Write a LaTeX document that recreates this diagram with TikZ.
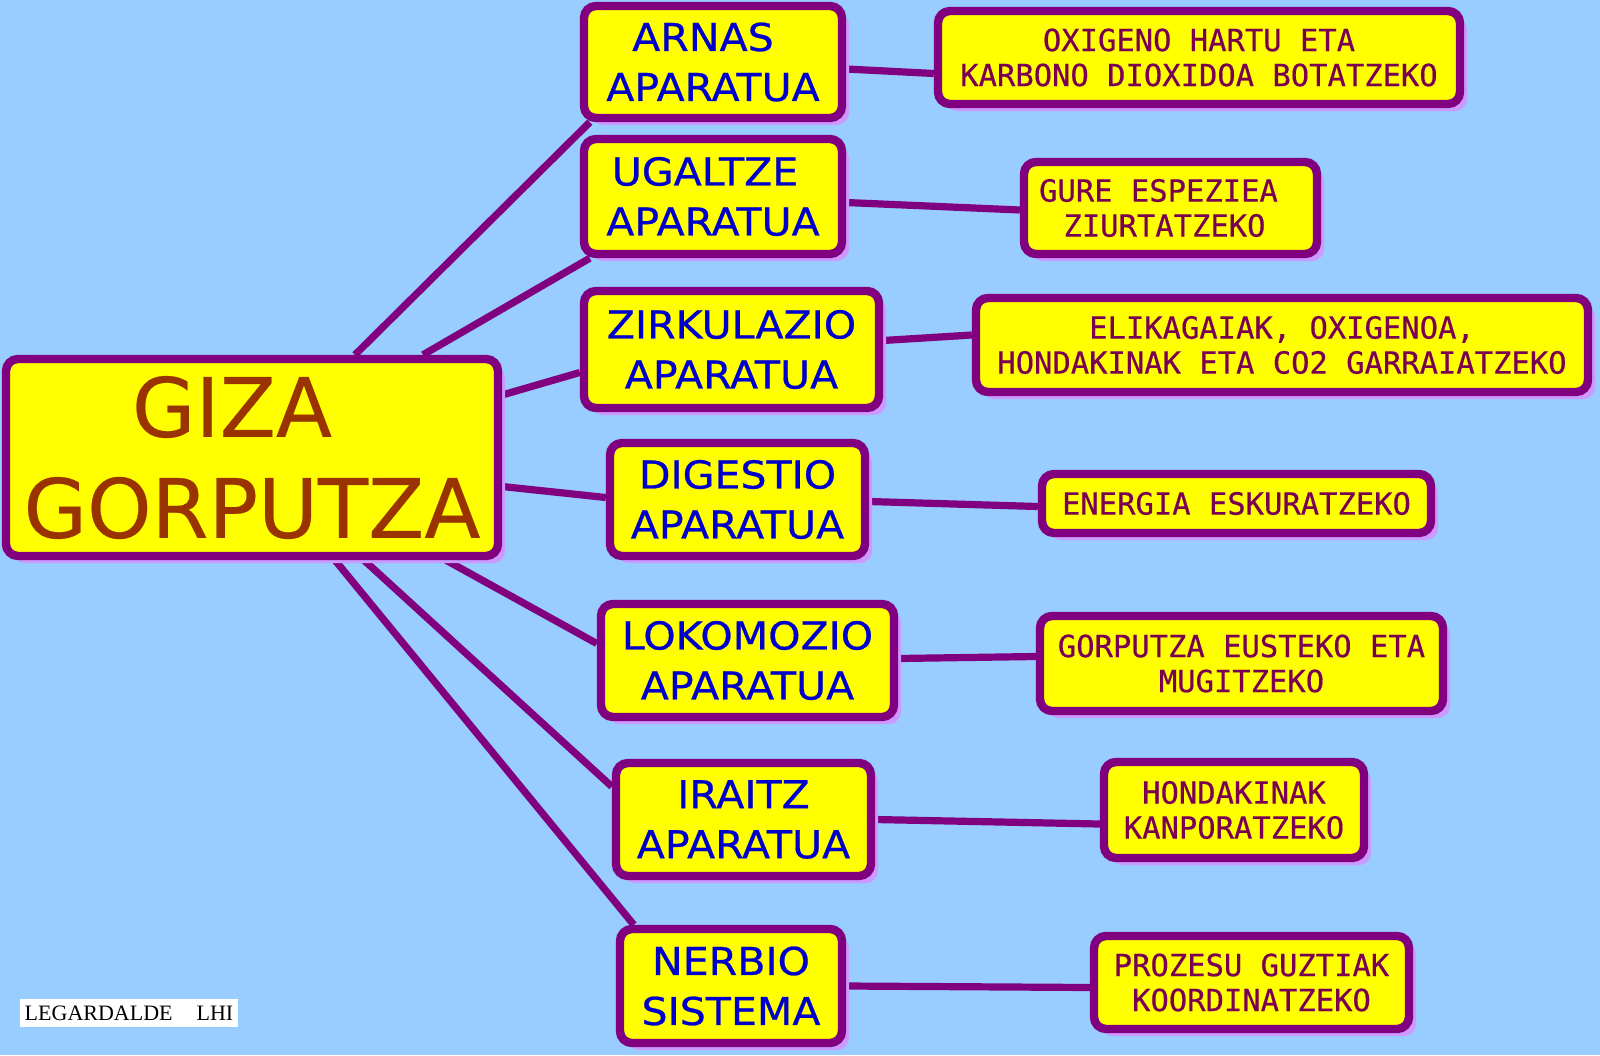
\documentclass[tikz,border=0pt]{standalone}
\usepackage{fontspec}
\usetikzlibrary{calc,shadows}
\newfontfamily\mainf[FakeBold=0.3]{DejaVu Sans}
\newfontfamily\midf[FakeStretch=1.07,FakeBold=0.6]{DejaVu Sans}
\newfontfamily\monof[FakeBold=0.5]{DejaVu Sans Mono}
\newfontfamily\labf{Liberation Serif}
\definecolor{bgc}{RGB}{153,204,255}
\definecolor{boxc}{RGB}{255,255,0}
\definecolor{bordc}{RGB}{128,0,128}
\definecolor{shadc}{RGB}{204,153,255}
\definecolor{mainc}{RGB}{153,51,0}
\definecolor{midc}{RGB}{0,0,204}
\definecolor{rightc}{RGB}{122,0,82}
\pgfdeclarelayer{background}
\pgfsetlayers{background,main}
\begin{document}
\begin{tikzpicture}[x=0.5pt,y=-0.5pt,
 boxbase/.style={draw=bordc, line width=4.2pt, fill=boxc, rounded corners=6pt, inner sep=0pt, align=center,
   drop shadow={fill=shadc, opacity=1, shadow xshift=3.5pt, shadow yshift=-3.5pt}},
 mainbox/.style={boxbase, text=mainc, font=\mainf\fontsize{41}{50.5}\selectfont},
 midbox/.style={boxbase, text=midc, font=\midf\fontsize{19.2}{25}\selectfont},
 rightbox/.style={boxbase, text=rightc, font=\monof\fontsize{15.25}{17.5}\selectfont},
 conn/.style={draw=bordc, line width=3.6pt},
 sz/.style 2 args={minimum width=#1pt, minimum height=#2pt}
]
\useasboundingbox (0,0) rectangle (1600,1055);

% central node
\node[mainbox, sz={246}{98.5}] (main) at (252,457.5) {GIZA\kern20pt\\GORPUTZA};

% middle column
\node[midbox, sz={129}{56}]     (arnas) at (713,62)      {ARNAS\kern10pt\\APARATUA};
\node[midbox, sz={129}{57.5}]   (ugal)  at (713,196.5)   {UGALTZE\kern8pt\\APARATUA};
\node[midbox, sz={147.5}{58.5}] (zirk)  at (731.5,349.5) {ZIRKULAZIO\\APARATUA};
\node[midbox, sz={127.5}{56.5}] (dig)   at (737.5,499.5) {DIGESTIO\\APARATUA};
\node[midbox, sz={146.5}{56.5}] (loko)  at (747.5,660.5) {LOKOMOZIO\\APARATUA};
\node[midbox, sz={127.5}{56.5}] (irai)  at (743.5,819.5) {IRAITZ\\APARATUA};
\node[midbox, sz={111}{57}]     (nerb)  at (731,986)     {NERBIO\\SISTEMA};

% right column
\node[rightbox, sz={261}{46.5}]   (oxi)  at (1199,57.5)   {OXIGENO HARTU ETA\\KARBONO DIOXIDOA BOTATZEKO};
\node[rightbox, sz={146.5}{46}]   (gure) at (1170.5,208)  {GURE ESPEZIEA\kern12pt\\ZIURTATZEKO\kern6pt};
\node[rightbox, sz={306}{47}]     (elik) at (1282,345)    {ELIKAGAIAK, OXIGENOA,\\HONDAKINAK ETA CO2 GARRAIATZEKO};
\node[rightbox, sz={194.5}{29.5}] (ener) at (1236.5,503.5){ENERGIA ESKURATZEKO};
\node[rightbox, sz={201.5}{47.5}] (gorp) at (1241.5,663.5){GORPUTZA EUSTEKO ETA\\MUGITZEKO};
\node[rightbox, sz={130}{48}]     (hond) at (1234,810)    {HONDAKINAK\\KANPORATZEKO};
\node[rightbox, sz={157.5}{46.5}] (proz) at (1251.5,982.5){PROZESU GUZTIAK\\KOORDINATZEKO};

% label
\node[fill=white, inner sep=0pt, minimum width=109pt, minimum height=14pt,
      font=\labf\fontsize{11}{13}\selectfont] (lab) at (129,1013) {LEGARDALDE\hspace{12pt}LHI};

\begin{pgfonlayer}{background}
\fill[bgc] (0,0) rectangle (1600,1055);
% main -> middle
\draw[conn] ($(main.north)+(103,0)$) -- ($(arnas.south west)+(10,0)$);
\draw[conn] ($(main.north)+(171,0)$) -- ($(ugal.south west)+(10,0)$);
\draw[conn] ($(main.east)+(0,-62.5)$) -- ($(zirk.west)+(0,23)$);
\draw[conn] ($(main.east)+(0,29)$) -- ($(dig.west)+(0,-2)$);
\draw[conn] ($(main.south)+(194,0)$) -- ($(loko.west)+(0,-17)$);
\draw[conn] ($(main.south)+(112,0)$) -- ($(irai.west)+(0,-33)$);
\draw[conn] ($(main.south)+(83,0)$) -- ($(nerb.north west)+(18,0)$);
% middle -> right
\draw[conn] ($(arnas.east)+(0,7)$) -- ($(oxi.west)+(0,16)$);
\draw[conn] ($(ugal.east)+(0,6)$) -- ($(gure.west)+(0,2)$);
\draw[conn] ($(zirk.east)+(0,-9)$) -- ($(elik.west)+(0,-10)$);
\draw[conn] ($(dig.east)+(0,2)$) -- ($(ener.west)+(0,3)$);
\draw[conn] ($(loko.east)+(0,-2)$) -- ($(gorp.west)+(0,-7)$);
\draw[conn] (irai.east) -- ($(hond.west)+(0,14)$);
\draw[conn] (nerb.east) -- ($(proz.west)+(0,5)$);
\end{pgfonlayer}
\end{tikzpicture}
\end{document}
